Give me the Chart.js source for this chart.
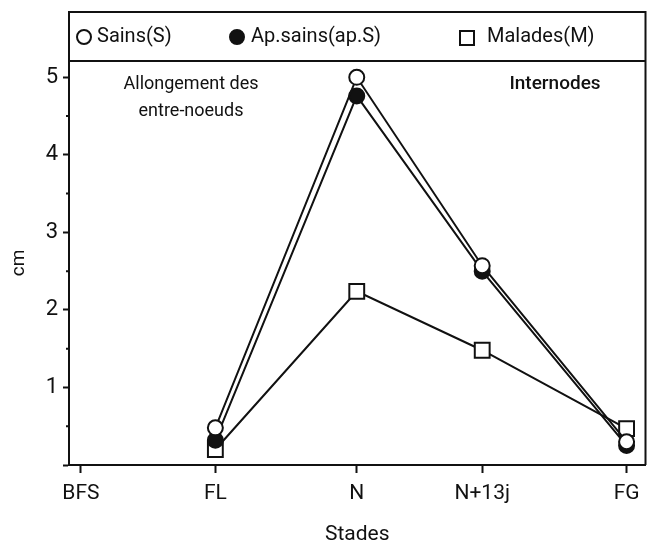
<!DOCTYPE html>
<html>
<head>
<meta charset="utf-8">
<script src="https://cdn.jsdelivr.net/npm/chart.js@4.4.1/dist/chart.umd.min.js"></script>
<style>
  html, body { margin: 0; padding: 0; background: #fff; }
</style>
</head>
<body>
<canvas id="chart" width="658" height="544"></canvas>
<script>
// stages on the x axis (positions are uneven in the original figure)
const stages = ['BFS', 'FL', 'N', 'N+13j', 'FG'];
const stagePos = [12, 147, 289, 415, 560];

// elongation of internodes, cm (BFS has no measure)
const sains = [null, 0.48, 5.0, 2.57, 0.30];
const apSains = [null, 0.32, 4.76, 2.50, 0.25];
const malades = [null, 0.20, 2.24, 1.48, 0.47];

const yMajor = [0, 1, 2, 3, 4, 5];
const yMinor = [0.5, 1.5, 2.5, 3.5, 4.5];

const seriesLabels = ['Sains(S)', 'Ap.sains(ap.S)', 'Malades(M)'];
const noteLeft = ['Allongement des', 'entre-noeuds'];
const noteRight = 'Internodes';

const FONT = 'Roboto';
const INK = '#111';

const toPoints = (values) => values
    .map((y, i) => ({ x: stagePos[i], y: y }))
    .filter((p) => p.y !== null);

const frame = {
    id: 'frame',
    afterDraw(chart) {
        const { ctx, chartArea, scales } = chart;
        const top = 12;
        ctx.save();
        ctx.strokeStyle = INK;
        ctx.lineWidth = 2;
        ctx.beginPath();
        ctx.moveTo(chartArea.left, chartArea.top);
        ctx.lineTo(chartArea.left, top);
        ctx.lineTo(chartArea.right, top);
        ctx.lineTo(chartArea.right, chartArea.bottom);
        ctx.moveTo(chartArea.left, chartArea.top);
        ctx.lineTo(chartArea.right, chartArea.top);
        ctx.stroke();

        // minor ticks on the y axis
        ctx.beginPath();
        yMinor.forEach((v) => {
            const y = scales.y.getPixelForValue(v);
            ctx.moveTo(chartArea.left - 3, y);
            ctx.lineTo(chartArea.left, y);
        });
        ctx.stroke();

        // legend in the top box
        const legendY = 37;
        const markX = [84, 237, 467];
        const textX = [97, 251, 487];
        ctx.font = `20px ${FONT}`;
        ctx.textBaseline = 'middle';
        chart.data.datasets.forEach((ds, i) => {
            ctx.beginPath();
            ctx.lineWidth = 2;
            if (ds.pointStyle === 'rect') {
                ctx.rect(markX[i] - 7, legendY - 6, 14, 14);
            } else {
                ctx.arc(markX[i], legendY, 7, 0, Math.PI * 2);
            }
            ctx.fillStyle = ds.pointBackgroundColor;
            ctx.fill();
            ctx.stroke();
            ctx.fillStyle = INK;
            ctx.fillText(ds.label, textX[i], legendY);
        });

        // notes in the plot
        ctx.fillStyle = INK;
        ctx.font = `18px ${FONT}`;
        ctx.textAlign = 'center';
        ctx.fillText(noteLeft[0], 191, 84);
        ctx.fillText(noteLeft[1], 191, 111);
        ctx.font = `500 19px ${FONT}`;
        ctx.fillText(noteRight, 555, 84);
        ctx.restore();
    }
};

const lineStyle = {
    showLine: true,
    borderColor: INK,
    borderWidth: 2,
    pointBorderColor: INK,
    pointBorderWidth: 2,
};

new Chart(document.getElementById('chart'), {
    type: 'scatter',
    data: {
        datasets: [
            { ...lineStyle, label: seriesLabels[0], data: toPoints(sains),
              pointStyle: 'circle', pointRadius: 7.5, pointBackgroundColor: '#fff' },
            { ...lineStyle, label: seriesLabels[1], data: toPoints(apSains),
              pointStyle: 'circle', pointRadius: 7.5, pointBackgroundColor: INK },
            { ...lineStyle, label: seriesLabels[2], data: toPoints(malades),
              pointStyle: 'rect', pointRadius: 10.5, pointBackgroundColor: '#fff' },
        ]
    },
    options: {
        responsive: false,
        animation: false,
        layout: { padding: { left: 0, top: 61, right: 10, bottom: 0 } },
        plugins: {
            legend: { display: false },
            tooltip: { enabled: false },
        },
        scales: {
            x: {
                type: 'linear',
                min: 0,
                max: 579,
                afterBuildTicks: (scale) => {
                    scale.ticks = stagePos.map((v) => ({ value: v }));
                },
                afterFit: (scale) => { scale.height = 79; },
                ticks: {
                    autoSkip: false,
                    maxRotation: 0,
                    padding: 8,
                    color: INK,
                    font: { family: FONT, size: 21 },
                    callback: (value, index) => stages[index],
                },
                grid: {
                    drawOnChartArea: false,
                    tickLength: 8,
                    tickWidth: 2,
                    tickColor: INK,
                },
                border: { color: INK, width: 2 },
                title: {
                    display: true,
                    text: 'Stades',
                    color: INK,
                    font: { family: FONT, size: 21 },
                    padding: { top: 0, bottom: -3 },
                },
            },
            y: {
                min: 0,
                max: 5.21,
                afterBuildTicks: (scale) => {
                    scale.ticks = yMajor.map((v) => ({ value: v }));
                },
                afterFit: (scale) => { scale.width = 69; },
                ticks: {
                    padding: 5,
                    color: INK,
                    font: { family: FONT, size: 22 },
                    callback: (value) => value === 0 ? '' : value,
                },
                grid: {
                    drawOnChartArea: false,
                    tickLength: 6,
                    tickWidth: 2,
                    tickColor: INK,
                },
                border: { color: INK, width: 2 },
                title: {
                    display: true,
                    text: 'cm',
                    color: INK,
                    font: { family: FONT, size: 19 },
                    padding: { top: 8, bottom: 0 },
                },
            },
        },
    },
    plugins: [frame],
});
</script>
</body>
</html>
